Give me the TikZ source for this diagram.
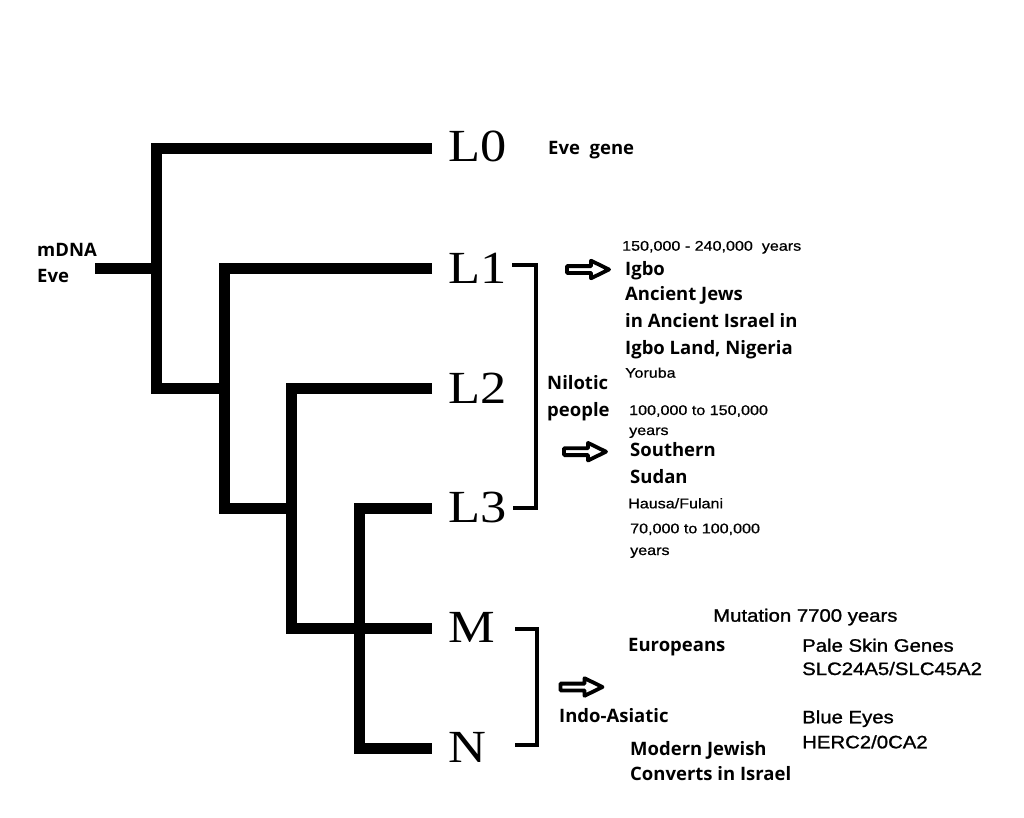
\documentclass[tikz,border=0pt]{standalone}
\usepackage{fontspec}
\setmainfont{Liberation Serif}[FakeStretch=1.14]
\newfontfamily\osfont{Open Sans}
\newfontfamily\arfont{Liberation Sans}[FakeStretch=1.15,FakeBold=0.6]
\newfontfamily\armidfont{Liberation Sans}[FakeStretch=1.13,FakeBold=1.2]
\begin{document}
\begin{tikzpicture}[x=1pt,y=-1pt,
  branch/.style={line width=11pt, line join=miter, line cap=butt},
  bracketline/.style={line width=3.5pt, line join=miter},
  harrow/.style={line width=3.8pt, line join=round, draw=black, fill=white},
  lab/.style={font=\fontsize{46}{46}\selectfont, inner sep=0pt, anchor=base west},
  ostext/.style={font=\osfont\bfseries\fontsize{18.5}{20}\selectfont, inner sep=0pt, anchor=base west},
  smalltext/.style={font=\arfont\fontsize{14}{16}\selectfont, inner sep=0pt, anchor=base west},
  midtext/.style={font=\armidfont\fontsize{18}{20}\selectfont, inner sep=0pt, anchor=base west},
  blockarrow/.pic={\draw[harrow] (-22,-3.4) -- (2,-3.4) -- (2,-8.8) -- (20,0) -- (2,8.8) -- (2,3.4) -- (-22,3.4) -- cycle;}
]
\fill[white] (0,0) rectangle (1024,818);
\useasboundingbox (0,0) rectangle (1024,818);

% branch ends and knots
\coordinate (r) at (95,268.5);
\coordinate (e0) at (432,148.5);
\coordinate (e1) at (432,268.5);
\coordinate (e2) at (432,388.5);
\coordinate (e3) at (432,508);
\coordinate (e4) at (432,628);
\coordinate (e5) at (432,748.5);
\coordinate (k1) at (156.5,388.5);
\coordinate (k2) at (224,508);
\coordinate (k3) at (291.5,628);
\coordinate (k4) at (359,748.5);

\draw[branch] (r) -- (r -| k1);
\draw[branch] (e0) -| (k1) -- (k1 -| k2);
\draw[branch] (e1) -| (k2) -- (k2 -| k3);
\draw[branch] (e2) -| (k3) -- (e4);
\draw[branch] (e3) -| (k4) -- (e5);

% labels
\node[lab] (L0) at (448,162) {L0};
\node[lab] (L1) at (448,283) {L1};
\node[lab] (L2) at (448,403) {L2};
\node[lab] (L3) at (448,522) {L3};
\node[lab] (M) at (448,642) {M};
\node[lab] (N) at (448,762) {N};

% brackets
\coordinate (b1t) at (512,265);
\coordinate (b1b) at (513,508);
\coordinate (b2t) at (515,629);
\coordinate (b2b) at (515,745);
\draw[bracketline] (b1t) -- ++(24,0) |- (b1b);
\draw[bracketline] (b2t) -- ++(22,0) |- (b2b);

% arrows
\pic (a1) at (589,269.5) {blockarrow};
\pic (a2) at (586,451.7) {blockarrow};
\pic (a3) at (582.5,687) {blockarrow};

% texts
\node[ostext] (evegene) at (548,155) {Eve\ \ gene};
\node[ostext] (mdna) at (37,256) {mDNA};
\node[ostext] (eve) at (37,282.7) {Eve};

\node[smalltext] (t1) at (622,250.7) {150,000 - 240,000\ \ years};
\node[ostext] (igbo) at (625,275.7) {Igbo};
\node[ostext] (aj) at (625,300.5) {Ancient Jews};
\node[ostext] (ai) at (625,327) {in Ancient Israel in};
\node[ostext] (il) at (625,354) {Igbo Land, Nigeria};
\node[smalltext] (yor) at (625,377.7) {Yoruba};

\node[ostext] (nil) at (547,389.3) {Nilotic};
\node[ostext] (peo) at (547,416.7) {people};

\node[smalltext] (t2) at (629,415) {100,000 to 150,000};
\node[smalltext] (t2b) at (629,435) {years};
\node[ostext] (sou) at (630,456.7) {Southern};
\node[ostext] (sud) at (630,483.3) {Sudan};
\node[smalltext] (hau) at (628,508.3) {Hausa/Fulani};
\node[smalltext] (t3) at (630,533.3) {70,000 to 100,000};
\node[smalltext] (t3b) at (630,555) {years};

\node[midtext] (mut) at (713,621.7) {Mutation 7700 years};
\node[ostext] (eur) at (628,651.7) {Europeans};
\node[midtext] (pale) at (802,651.7) {Pale Skin Genes};
\node[midtext] (slc) at (802,675) {SLC24A5/SLC45A2};
\node[ostext] (indo) at (559,722.3) {Indo-Asiatic};
\node[midtext] (blue) at (802,723.3) {Blue Eyes};
\node[midtext] (herc) at (802,748.3) {HERC2/0CA2};
\node[ostext] (mod) at (630,755) {Modern Jewish};
\node[ostext] (conv) at (630,780) {Converts in Israel};
\end{tikzpicture}
\end{document}
